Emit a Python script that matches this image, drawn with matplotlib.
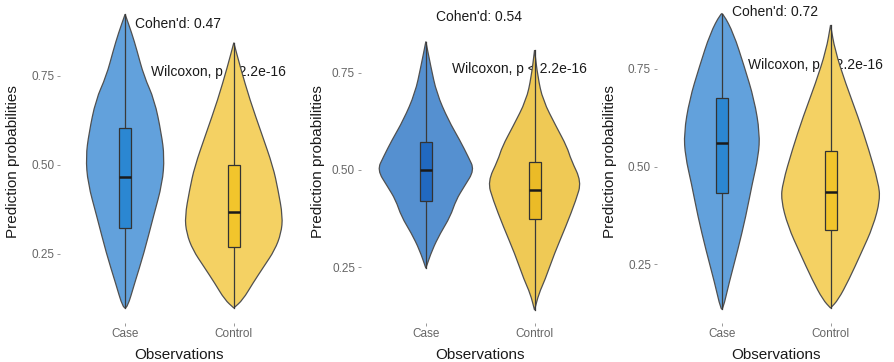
import numpy as np
import matplotlib.pyplot as plt
from matplotlib.patches import Rectangle, PathPatch
from matplotlib.path import Path

plt.rcParams['font.family'] = ['Liberation Sans', 'DejaVu Sans']

groups = ['Case', 'Control']
yticks = [0.25, 0.50, 0.75]

# violin outlines: probability value -> half width (in x units)
case1_y = [0.923, 0.869, 0.822, 0.749, 0.682, 0.588, 0.522, 0.448, 0.354, 0.251, 0.167, 0.097]
case1_w = [0.0, 0.062, 0.108, 0.173, 0.27, 0.333, 0.361, 0.343, 0.26, 0.173, 0.088, 0.02]
ctrl1_y = [0.843, 0.775, 0.682, 0.588, 0.494, 0.429, 0.354, 0.307, 0.26, 0.213, 0.167, 0.12, 0.097]
ctrl1_w = [0.0, 0.059, 0.148, 0.255, 0.361, 0.407, 0.45, 0.435, 0.377, 0.275, 0.176, 0.083, 0.0]

case2_y = [0.831, 0.766, 0.698, 0.629, 0.577, 0.534, 0.5, 0.457, 0.423, 0.38, 0.337, 0.294, 0.247]
case2_w = [0.0, 0.046, 0.099, 0.206, 0.312, 0.39, 0.447, 0.352, 0.278, 0.225, 0.133, 0.058, 0.0]
ctrl2_y = [0.809, 0.74, 0.68, 0.612, 0.56, 0.526, 0.47, 0.423, 0.354, 0.285, 0.216, 0.182, 0.139]
ctrl2_w = [0.0, 0.03, 0.076, 0.199, 0.298, 0.336, 0.431, 0.382, 0.287, 0.183, 0.095, 0.04, 0.0]

case3_y = [0.891, 0.841, 0.756, 0.671, 0.585, 0.526, 0.457, 0.372, 0.287, 0.202, 0.135]
case3_w = [0.012, 0.107, 0.206, 0.298, 0.349, 0.336, 0.28, 0.22, 0.147, 0.066, 0.01]
ctrl3_y = [0.862, 0.798, 0.713, 0.628, 0.543, 0.458, 0.415, 0.347, 0.279, 0.21, 0.159, 0.138]
ctrl3_w = [0.0, 0.04, 0.138, 0.252, 0.352, 0.44, 0.456, 0.392, 0.282, 0.168, 0.07, 0.0]

# box stats per panel: [Case, Control]
q1 = [[0.322, 0.269], [0.42, 0.374], [0.433, 0.338]]
med = [[0.465, 0.367], [0.50, 0.448], [0.561, 0.434]]
q3 = [[0.603, 0.50], [0.572, 0.52], [0.676, 0.541]]
wlo = [[0.097, 0.097], [0.247, 0.139], [0.135, 0.138]]
whi = [[0.923, 0.843], [0.831, 0.809], [0.891, 0.862]]

cohen_d = [0.47, 0.54, 0.72]
wilcox = 'Wilcoxon, p < 2.2e-16'

outlines = [
    [(case1_y, case1_w), (ctrl1_y, ctrl1_w)],
    [(case2_y, case2_w), (ctrl2_y, ctrl2_w)],
    [(case3_y, case3_w), (ctrl3_y, ctrl3_w)],
]

violin_cols = [['#62a1dc', '#f4d163'], ['#5590d0', '#efc955'], ['#62a1dc', '#f4d163']]
box_cols = [['#2b87d2', '#f2c52c'], ['#2169c0', '#ebbb27'], ['#2b87d2', '#f2c52c']]

ylims = [(0.055, 0.963), (0.106, 0.938), (0.10, 0.926)]
lefts = [0.067, 0.4034, 0.7345]
ylab_x = [-0.168, -0.148, -0.165]


def violin_path(x, y, w):
    # closed outline: right side top->bottom, left side bottom->top,
    # rounded with quadratic curves through the edge midpoints
    y = np.asarray(y)
    w = np.asarray(w)
    pts = np.vstack([np.column_stack([x + w, y]),
                     np.column_stack([x - w[::-1], y[::-1]])])
    n = len(pts)
    mids = (pts + np.roll(pts, -1, axis=0)) / 2
    verts = [mids[-1]]
    codes = [Path.MOVETO]
    for i in range(n):
        verts += [pts[i], mids[i]]
        codes += [Path.CURVE3, Path.CURVE3]
    verts.append(mids[-1])
    codes.append(Path.CLOSEPOLY)
    return Path(verts, codes)


fig = plt.figure(figsize=(8.94, 3.62), dpi=100)

for p in range(3):
    ax = fig.add_axes([lefts[p], 0.108, 0.2675, 0.892])
    for g in range(2):
        x = g + 1
        y, w = outlines[p][g]
        ax.add_patch(PathPatch(violin_path(x, y, w), facecolor=violin_cols[p][g],
                               edgecolor='#505050', lw=0.9, zorder=2))
        # whiskers
        ax.plot([x, x], [wlo[p][g], q1[p][g]], color='#3a3a3a', lw=0.9, zorder=3)
        ax.plot([x, x], [q3[p][g], whi[p][g]], color='#3a3a3a', lw=0.9, zorder=3)
        ax.add_patch(Rectangle((x - 0.055, q1[p][g]), 0.11, q3[p][g] - q1[p][g],
                               facecolor=box_cols[p][g], edgecolor='#333333',
                               lw=0.9, zorder=3))
        ax.plot([x - 0.055, x + 0.055], [med[p][g], med[p][g]],
                color='#1a1a1a', lw=1.8, zorder=4, solid_capstyle='butt')

    ax.text(1.09, 0.895, "Cohen'd: %.2f" % cohen_d[p], fontsize=10,
            color='#1a1a1a', ha='left', va='center', zorder=1)
    ax.text(1.24, 0.76, wilcox, fontsize=10, color='#1a1a1a',
            ha='left', va='center', zorder=1)

    ax.set_xlim(0.4, 2.6)
    ax.set_ylim(*ylims[p])
    ax.set_xticks([1, 2])
    ax.set_xticklabels(groups)
    ax.set_yticks(yticks)
    ax.set_yticklabels(['%.2f' % v for v in yticks])
    ax.tick_params(length=2.5, width=0.6, color='#888888', labelcolor='#666666',
                   labelsize=8.5, pad=1.5)
    for s in ax.spines.values():
        s.set_visible(False)
    ax.patch.set_visible(False)
    ax.set_xlabel('Observations', fontsize=11, color='#1a1a1a')
    ax.set_ylabel('Prediction probabilities', fontsize=11, color='#1a1a1a')
    ax.xaxis.set_label_coords(0.5, -0.077)
    ax.yaxis.set_label_coords(ylab_x[p], 0.5)

fig.savefig('out.png', dpi=100)
